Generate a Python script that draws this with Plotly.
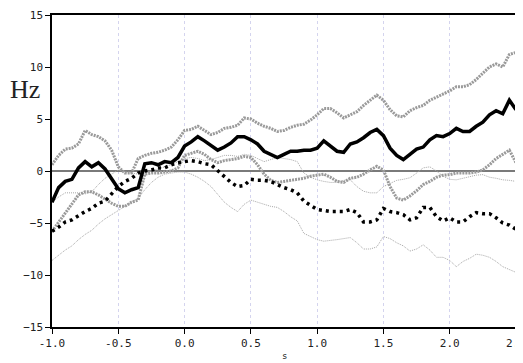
import numpy as np
import plotly.graph_objects as go

# time axis (s), 0.05 s steps from -1.0 to 2.5
t = [round(-1.0 + 0.05 * i, 2) for i in range(71)]

# condition A: mean and confidence band (Hz)
a_mean = [-3.0, -1.6, -1.0, -0.8, 0.3, 0.9, 0.4, 0.8, 0.2, -0.8,
          -1.7, -2.1, -1.8, -1.6, 0.7, 0.8, 0.6, 0.9, 0.8, 1.3,
          2.4, 2.8, 3.3, 2.9, 2.4, 2.0, 2.3, 2.7, 3.3, 3.3,
          3.0, 2.6, 1.9, 1.6, 1.3, 1.6, 1.9, 1.9, 2.0, 2.0,
          2.2, 2.9, 2.4, 1.9, 1.8, 2.6, 2.8, 3.2, 3.7, 4.0,
          3.4, 2.2, 1.5, 1.1, 1.6, 2.1, 2.3, 3.0, 3.4, 3.3,
          3.6, 4.1, 3.8, 3.8, 4.3, 4.7, 5.4, 5.8, 5.5, 6.8, 5.9]
a_upper = [0.6, 1.5, 2.1, 2.2, 2.6, 3.9, 3.5, 3.3, 2.9, 2.0,
           0.4, -0.2, -0.2, 1.2, 1.5, 1.7, 1.8, 2.0, 2.3, 3.0,
           3.9, 4.0, 4.3, 3.9, 3.5, 3.7, 4.1, 4.2, 4.4, 5.1,
           5.0, 4.6, 4.3, 4.1, 3.8, 3.9, 4.2, 4.4, 4.5, 4.9,
           5.4, 6.0, 6.0, 5.6, 5.1, 5.4, 5.7, 6.3, 6.8, 7.3,
           6.8, 5.9, 5.3, 5.2, 5.8, 6.1, 6.3, 6.8, 7.1, 7.4,
           7.7, 8.1, 8.1, 8.3, 8.8, 9.4, 10.0, 10.3, 10.0, 11.2, 11.4]
a_lower = [-5.8, -4.9, -4.0, -3.2, -2.3, -2.0, -2.0, -2.3, -2.7, -3.1,
           -3.4, -3.4, -3.0, -2.8, -0.3, -0.2, -0.2, -0.1, 0.0, 0.3,
           1.5, 1.7, 1.9, 1.6, 1.1, 0.8, 1.0, 1.1, 1.2, 1.4,
           1.3, 0.6, -0.3, -0.9, -1.1, -1.0, -0.9, -0.85, -0.7, -0.5,
           -0.4, -0.3, -0.6, -1.0, -1.1, -0.7, -0.6, -0.3, 0.1, 0.45,
           0.1, -1.5, -2.6, -2.8, -2.4, -1.9, -1.3, -1.0, -0.6, -0.4,
           -0.35, -0.2, -0.2, -0.2, -0.1, 0.1, 0.6, 1.2, 1.6, 2.0, 0.8]

# condition B: mean and confidence band (Hz)
b_mean = [-5.8, -5.4, -4.9, -4.7, -4.3, -3.9, -3.6, -3.1, -2.9, -2.2,
          -1.5, -1.0, -0.7, -0.2, 0.0, 0.1, 0.3, 0.3, 0.6, 0.8,
          0.9, 1.0, 0.9, 0.7, 0.6, 0.0, -0.5, -1.1, -1.5, -1.4,
          -0.8, -0.9, -0.9, -1.0, -1.3, -1.6, -1.8, -2.1, -2.9, -3.3,
          -3.7, -3.8, -3.9, -3.9, -3.9, -3.7, -4.0, -4.9, -4.9, -4.7,
          -3.6, -3.9, -4.0, -4.2, -4.7, -4.5, -3.5, -3.5, -4.4, -4.8,
          -4.5, -4.9, -4.9, -4.4, -4.0, -4.1, -4.1, -4.5, -5.0, -5.2, -5.6]
b_upper = [-3.0, -2.5, -2.1, -2.1, -2.1, -2.2, -2.0, -1.3, -0.7, -0.3,
           0.1, -0.1, -0.2, -0.3, -0.2, 0.0, 0.2, 0.4, 0.6, 0.9,
           1.2, 1.3, 1.2, 1.0, 1.1, 1.3, 1.5, 1.5, 1.4, 1.6,
           1.5, 1.2, 0.9, 1.1, 1.3, 1.2, 1.1, 0.9, -0.2, -0.6,
           -0.85, -1.0, -1.1, -1.1, -0.9, -0.85, -1.5, -1.95, -2.1, -2.1,
           -1.5, -1.2, -0.9, -0.8, -0.65, -0.2, 0.3, 0.4, 0.0, -0.5,
           -0.8, -0.85, -0.7, -0.5, -0.4, -0.35, -0.6, -0.7, -0.85, -0.9, -1.0]
b_lower = [-8.6, -8.1, -7.6, -7.2, -6.6, -6.1, -5.7, -5.1, -4.6, -4.2,
           -3.8, -3.4, -3.0, -2.6, -1.8, -1.1, -0.6, -0.3, -0.2, -0.1,
           -0.1, -0.3, -0.6, -1.0, -1.5, -2.3, -3.0, -3.5, -3.9, -3.2,
           -2.8, -3.0, -3.2, -3.4, -3.5, -3.9, -4.4, -4.8, -6.0, -6.3,
           -6.6, -6.75, -6.7, -6.6, -6.5, -6.4, -6.9, -7.5, -7.5, -7.3,
           -6.3, -6.5, -6.9, -7.2, -7.7, -7.5, -7.1, -7.6, -8.3, -8.3,
           -8.6, -9.2, -8.7, -8.4, -8.0, -8.1, -8.3, -8.7, -9.2, -9.5, -9.75]

x_ticks = [-1.0, -0.5, 0.0, 0.5, 1.0, 1.5, 2.0, 2.5]
y_ticks = [-15, -10, -5, 0, 5, 10, 15]

fig = go.Figure()
thin = dict(color="#a8a8a8", width=1, dash="1px,1px")
hatch = dict(color="#9a9a9a", width=3, dash="2px,1px")
fig.add_trace(go.Scatter(x=t, y=b_upper, mode="lines", line=thin, showlegend=False))
fig.add_trace(go.Scatter(x=t, y=b_lower, mode="lines", line=thin, showlegend=False))
fig.add_trace(go.Scatter(x=t, y=a_upper, mode="lines", line=hatch, showlegend=False))
fig.add_trace(go.Scatter(x=t, y=a_lower, mode="lines", line=hatch, showlegend=False))
fig.add_trace(go.Scatter(x=t, y=b_mean, mode="lines",
                         line=dict(color="black", width=3.5, dash="3px,4px"),
                         showlegend=False))
fig.add_trace(go.Scatter(x=t, y=a_mean, mode="lines",
                         line=dict(color="black", width=3.5),
                         showlegend=False))

tickfont = dict(family="DejaVu Sans Mono", size=11, color="#222")
# the page body adds an 8 px offset, so the figure is sized to land the plot box at 52..516 x 15..327
fig.update_layout(
    width=515, height=355,
    margin=dict(l=44, r=7, t=7, b=36, autoexpand=False),
    paper_bgcolor="white", plot_bgcolor="white",
    xaxis=dict(range=[-1.0, 2.5], tickvals=x_ticks, ticktext=[f"{v:.1f}" for v in x_ticks],
               ticks="outside", ticklen=5, tickcolor="black", tickwidth=1,
               showline=True, linecolor="black", linewidth=1.5, mirror=True,
               showgrid=True, gridcolor="#d4d4ee", griddash="dot", gridwidth=1,
               zeroline=False, tickfont=tickfont, ticklabeloverflow="allow",
               automargin=False),
    yaxis=dict(range=[-15, 15], tickvals=y_ticks,
               ticks="outside", ticklen=5, tickcolor="black", tickwidth=1,
               showline=True, linecolor="black", linewidth=1.5, mirror=True,
               showgrid=False, zeroline=True, zerolinecolor="#7a7a7a", zerolinewidth=1.5,
               tickfont=tickfont, automargin=False),
    annotations=[
        dict(text="Hz", x=-0.058, y=0.76, xref="paper", yref="paper", showarrow=False,
             xanchor="center", yanchor="middle",
             font=dict(family="Liberation Serif", size=26, color="#222")),
        dict(text="s", x=0.5, y=-0.07, xref="paper", yref="paper", showarrow=False,
             xanchor="center", yanchor="top",
             font=dict(family="DejaVu Sans Mono", size=9, color="#222")),
    ],
)

fig.write_html("out.html")
